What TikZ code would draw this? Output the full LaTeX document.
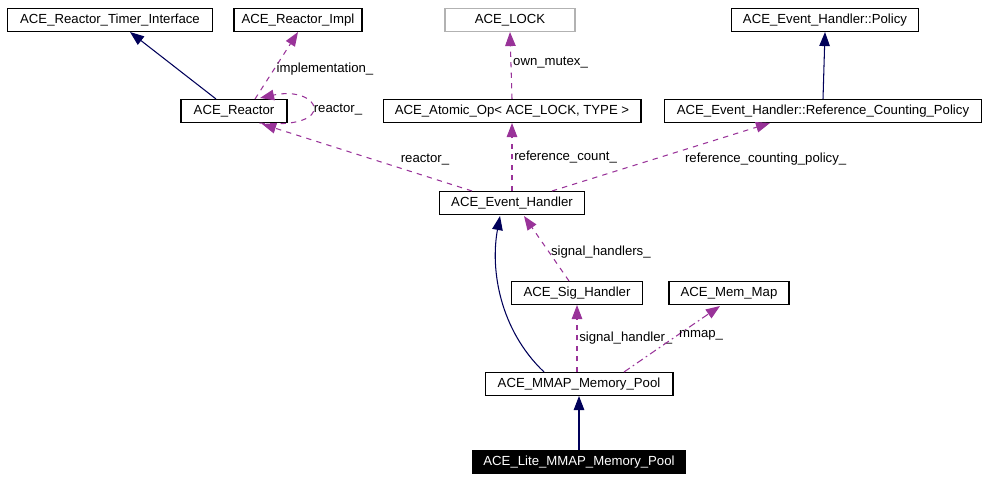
\documentclass[tikz,border=0pt]{standalone}
\usepackage{fontspec}
\setmainfont{Liberation Sans}
\usetikzlibrary{arrows.meta,positioning}
\begin{document}
\begin{tikzpicture}[x=0.02cm,y=-0.02cm,>={Triangle[width=6pt,length=8pt]},auto]

    \tikzstyle{commonNode}=[font=\fontsize{7.5}{9}\selectfont, draw=black, line width=0.6pt, inner sep=0pt, minimum height=0.46cm, anchor=center]
    \tikzstyle{cls}=[commonNode, fill=white]
    \tikzstyle{ghostCls}=[commonNode, draw=black!30]
    \tikzstyle{mainCls}=[commonNode, fill=black, text=white]
    \tikzstyle{inherit}=[->, draw=blue!35!black, line width=0.6pt]
    \tikzstyle{uses}=[->, draw=violet!80, dashed, line width=0.6pt]
    \tikzstyle{lbl}=[font=\fontsize{7.5}{9}\selectfont, text=black, inner sep=1pt]

    \useasboundingbox (0,0) rectangle (989,480);

    % Top row
    \node at (110,20) [cls, minimum width=4.1cm]      (RTI)    {ACE\_Reactor\_Timer\_Interface};
    \node at (298,20) [cls, minimum width=2.56cm]     (RImpl)  {ACE\_Reactor\_Impl};
    \node at (510,20) [ghostCls, minimum width=2.6cm] (LOCK)   {ACE\_LOCK};
    \node at (825,20) [cls, minimum width=3.74cm]     (Policy) {ACE\_Event\_Handler::Policy};

    % Second row
    \node at (234,111) [cls, minimum width=2.12cm] (R)   {ACE\_Reactor};
    \node at (512,111) [cls, minimum width=5.16cm] (AO)  {ACE\_Atomic\_Op< ACE\_LOCK, TYPE >};
    \node at (823,111) [cls, minimum width=6.34cm] (RCP) {ACE\_Event\_Handler::Reference\_Counting\_Policy};

    % Lower part
    \node at (512,203) [cls, minimum width=2.9cm]  (EH)   {ACE\_Event\_Handler};
    \node at (577,293) [cls, minimum width=2.62cm] (SH)   {ACE\_Sig\_Handler};
    \node at (729,293) [cls, minimum width=2.4cm]  (MM)   {ACE\_Mem\_Map};
    \node at (579,384) [cls, minimum width=3.76cm] (Pool) {ACE\_MMAP\_Memory\_Pool};
    \node at (579,462) [mainCls, minimum width=4.26cm] (Lite) {ACE\_Lite\_MMAP\_Memory\_Pool};

    % Connectors
    \draw [inherit] (R.north) ++(-18,0) -- (RTI.south -| 130,0);
    \draw [uses] (255,99) -- node[lbl, right, pos=0.45] {implementation\_} (RImpl.south);
    \draw [uses] (R.south east) ++(-28,0) .. controls (340,130) and (320,85) .. (260,98);
    \node [lbl] at (338,110) (Rlbl) {reactor\_};
    \draw [uses] (AO.north) -- node[lbl, right, pos=0.55] {own\_mutex\_} (LOCK.south);
    \draw [inherit] (RCP.north) -- (Policy.south);
    \draw [uses] (EH.north) ++(-40,0) -- node[lbl, above right, pos=0.35] {reactor\_} (262,124);
    \draw [uses] (EH.north) -- node[lbl, right, pos=0.5] {reference\_count\_} (AO.south);
    \draw [uses] (EH.north) ++(40,0) -- node[lbl, below right, pos=0.6] {reference\_counting\_policy\_} (770,123);
    \draw [uses] (SH.north) ++(-8,0) -- node[lbl, right, pos=0.45] {signal\_handlers\_} (524,216);
    \draw [inherit] (Pool.north) ++(-35,0) .. controls (500,330) and (490,270) .. (500,216);
    \draw [uses] (SH.south |- Pool.north) -- node[lbl, right, pos=0.5] {signal\_handler\_} (SH.south);
    \draw [uses, dash pattern=on 4pt off 2pt on 1pt off 2pt] (Pool.north) ++(45,0) -- node[lbl, right, pos=0.55] {mmap\_} (720,306);
    \draw [inherit] (Lite.north) -- (Pool.south);
\end{tikzpicture}
\end{document}
